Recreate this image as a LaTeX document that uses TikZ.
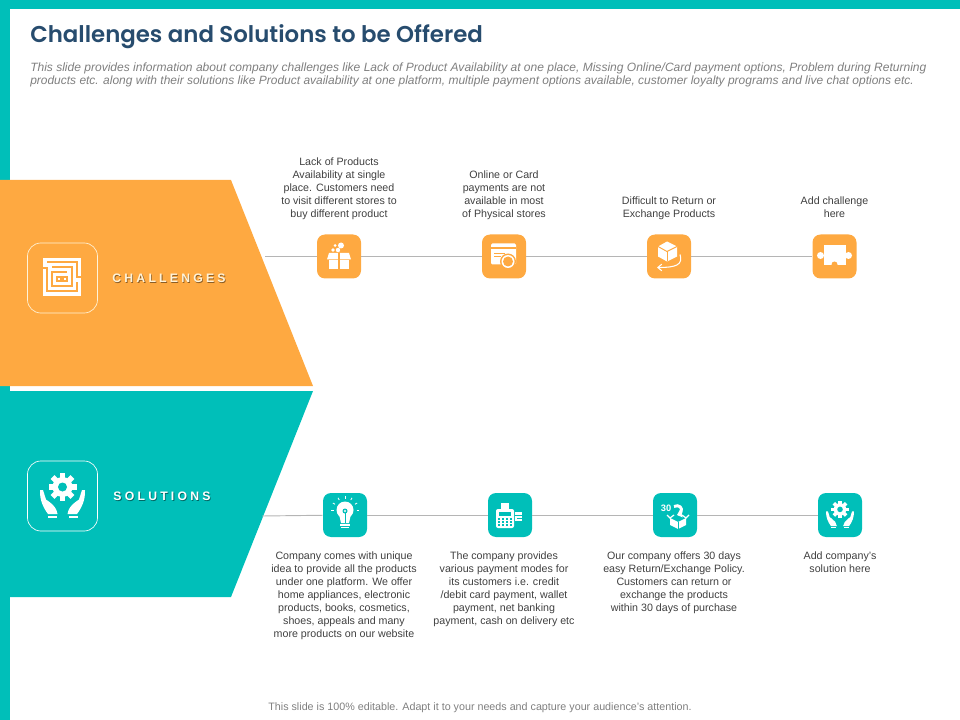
\documentclass[tikz,border=0pt]{standalone}
\usepackage{fontspec}
\setmainfont{Liberation Sans}
\newfontfamily\titlefont[UprightFont={* SemiBold}]{Poppins}
\newfontfamily\spacedfont[LetterSpace=26]{Liberation Sans}
\usetikzlibrary{positioning,arrows.meta}
\definecolor{bandorange}{HTML}{FEA941}
\definecolor{bandteal}{HTML}{00BFB9}
\definecolor{titleblue}{HTML}{274C6E}
\definecolor{leadgray}{HTML}{7F7F7F}
\definecolor{bodygray}{HTML}{404040}
\definecolor{linkgray}{HTML}{B5B5B5}
\definecolor{panelline}{HTML}{FFF3D9}
\newcommand{\shadowtext}[2]{\rlap{\raisebox{-0.5pt}{\kern0.6pt\color{#1}#2}}#2}
\tikzset{
    iconbox/.style={rounded corners=6pt,minimum size=33pt,inner sep=0pt},
    iconpanel/.style={draw,rounded corners=10pt,minimum size=52.5pt,inner sep=0pt,line width=0.5pt},
    bodytext/.style={align=center,inner sep=0pt,text=bodygray,font=\fontsize{8}{9.75}\selectfont},
    bandlabel/.style={inner sep=0pt,text=panelline,font=\spacedfont\bfseries\fontsize{9.2}{10}\selectfont},
    link/.style={linkgray,line width=0.7pt},
    pics/handgear/.style={code={
        \fill[white](0,-9)circle(10);
        \foreach \a in {0,45,...,315}
            \fill[white,rotate around={\a:(0,-9)}](-2.8,-23)rectangle(2.8,-17);
        \fill[#1](0,-9)circle(4.5);
        \foreach \s in {1,-1}{
            \fill[white,xscale=\s](-22.5,-6)..controls(-23,4)and(-19,12)..(-14.5,18)--(-5,18)
                ..controls(-5.5,13)and(-9,9)..(-13,6)--(-16.5,3.5)--(-19.5,-6)--cycle;
            \fill[white,xscale=\s](-15,20)rectangle(-6,21.5);
        }
    }},
}
\begin{document}
\begin{tikzpicture}[x=0.75pt,y=-0.75pt]
    \useasboundingbox(0,0)rectangle(960,720);
    % frame
    \fill[bandteal](0,0)rectangle(960,9);
    \fill[bandteal](0,0)rectangle(10,720);
    % heading
    \node[anchor=west,inner sep=0pt,text=titleblue,font=\titlefont\fontsize{17.15}{22}\selectfont](heading)at(30,36.5){Challenges and Solutions to be Offered};
    \node[anchor=north west,inner sep=0pt,align=left,text=leadgray,font=\itshape\fontsize{9.02}{9.75}\selectfont](lead)at(30,63){This slide provides information about company challenges like Lack of Product Availability at one place, Missing Online/Card payment options, Problem during Returning\\\fontsize{8.98}{9.75}\selectfont products etc.  along with their solutions like Product availability at one platform, multiple payment options available, customer loyalty programs and live chat options etc.};
    % bands
    \fill[bandorange](0,180)--(231,180)--(313,386)--(0,386)--cycle;
    \fill[bandteal](0,391)--(313,391)--(231,597)--(0,597)--cycle;
    \node[iconpanel,draw=panelline](chalpanel)at(62.5,278){};
    \node[iconpanel,draw=white](solpanel)at(62.5,496){};
    \node[bandlabel](chaltext)at(169,279){\shadowtext{black!45!bandorange}{CHALLENGES}};
    \node[bandlabel,text=white](soltext)at(162,497){\shadowtext{black!45!bandteal}{SOLUTIONS}};
    % maze
    \fill[white](43,258)rectangle(81,296);
    \draw[bandorange,line width=0.8pt](47,262)--(77,262)--(77,277)--(83,277);
    \draw[bandorange,line width=0.8pt](41,268)--(47,268)--(47,291)--(77,291)--(77,282);
    \draw[bandorange,line width=0.8pt](52,267)--(72,267)--(72,286)--(52,286)--(52,272)--(67,272);
    \draw[bandorange,line width=0.8pt](57,277)--(67,277)--(67,281)--(57,281)--cycle;
    \fill[bandorange](60,277)rectangle(64,281);
    \pic at (solpanel){handgear=bandteal};
    % challenges row
    \node[iconbox,fill=bandorange](chalA)at(339,256.5){};
    \node[iconbox,fill=bandorange](chalB)at(504,256.5){};
    \node[iconbox,fill=bandorange](chalC)at(669,256.5){};
    \node[iconbox,fill=bandorange](chalD)at(834.5,256.5){};
    \coordinate(chalstart)at(265,256.5);
    \draw[link](chalstart)--(chalA);
    \draw[link](chalA)--(chalB);
    \draw[link](chalB)--(chalC);
    \draw[link](chalC)--(chalD);
    \node[bodytext,above=11pt of chalA](chaltextA){Lack of Products\\Availability at single\\place. Customers need\\to visit different stores to\\buy different product};
    \node[bodytext,above=11pt of chalB](chaltextB){Online or Card\\payments are not\\available in most\\of Physical stores};
    \node[bodytext,above=11pt of chalC](chaltextC){Difficult to Return or\\Exchange Products};
    \node[bodytext,above=12.5pt of chalD](chaltextD){Add challenge\\here};
    % solutions row
    \node[iconbox,fill=bandteal](solA)at(345,515){};
    \node[iconbox,fill=bandteal](solB)at(510,515){};
    \node[iconbox,fill=bandteal](solC)at(675,515){};
    \node[iconbox,fill=bandteal](solD)at(840,515){};
    \coordinate(solstart)at(262,516);
    \draw[link](solstart)--(solA);
    \draw[link](solA)--(solB);
    \draw[link](solB)--(solC);
    \draw[link](solC)--(solD);
    \node[bodytext,below=10.4pt of solA,xshift=-0.75pt](soltextA){Company comes with unique\\idea to provide all the products\\under one platform. We offer\\home appliances, electronic\\products, books, cosmetics,\\shoes, appeals and many\\more products on our website};
    \node[bodytext,below=10.4pt of solB,xshift=-4.5pt](soltextB){The company provides\\various payment modes for\\its customers i.e. credit\\/debit card payment, wallet\\payment, net banking\\payment, cash on delivery etc};
    \node[bodytext,below=10.4pt of solC,xshift=-0.75pt](soltextC){Our company offers 30 days\\easy Return/Exchange Policy.\\Customers can return or\\exchange the products\\within 30 days of purchase};
    \node[bodytext,below=10.4pt of solD](soltextD){Add company's\\solution here};
    % gift
    \begin{scope}[shift={(chalA.center)}]
        \fill[white](-10,-3.5)--(10,-3.5)--(12,3)--(-12,3)--cycle;
        \fill[white](-10,3.5)rectangle(10,13);
        \draw[bandorange,line width=0.8pt](0,-3.5)--(0,13);
        \fill[white](2,-11)circle(3);
        \fill[white](-4,-11)circle(1.5);
        \fill[white](-6,-6.5)circle(1.8);
        \fill[white](-1,-6.5)circle(2.2);
    \end{scope}
    % card with coin
    \begin{scope}[shift={(chalB.center)}]
        \fill[white,rounded corners=1pt](-13,-13)rectangle(12,8);
        \fill[bandorange](-13,-9)rectangle(12,-7);
        \draw[bandorange,line width=0.7pt](-10,-3)--(1,-3);
        \draw[bandorange,line width=0.7pt](-10,0)--(-3,0);
        \fill[bandorange](4,5)circle(8);
        \fill[white](4,5)circle(6.5);
        \fill[bandorange](4,5)circle(5);
    \end{scope}
    % return parcel
    \begin{scope}[shift={(chalC.center)}]
        \fill[white](-2,-15)--(8,-10)--(8,0)--(-2,5)--(-11,0)--(-11,-10)--cycle;
        \draw[bandorange,line width=0.7pt](-11,-10)--(-2,-5)--(8,-10);
        \draw[bandorange,line width=0.7pt](-2,-5)--(-2,5);
        \draw[white,line width=0.8pt,-{Straight Barb[length=3pt,width=5pt]}](11,-2)..controls(14,8)and(8,11)..(-12,11);
    \end{scope}
    % puzzle piece
    \begin{scope}[shift={(chalD.center)}]
        \fill[white](-11,-11)rectangle(11,9);
        \fill[white](-14,-1)circle(3.5);
        \fill[white](14,-1)circle(3.5);
        \fill[bandorange](0,8)circle(3);
    \end{scope}
    % bulb
    \begin{scope}[shift={(solA.center)}]
        \fill[white](0,-5)circle(8.5);
        \fill[white](-6,-1)--(6,-1)--(4,8)--(-4,8)--cycle;
        \fill[bandteal](0,-4)circle(2.5);
        \fill[white](0,-4)circle(1.2);
        \draw[bandteal,line width=0.7pt](0,-2)--(0,8);
        \fill[white](-5,9)rectangle(5,10.5);
        \fill[white](-4,11.5)rectangle(4,13);
        \foreach \a in {-150,-120,-90,-60,-30,180,0}
            \draw[white,line width=0.6pt](\a:11.5)++(0,-5)--++(\a:2.5);
    \end{scope}
    % card reader
    \begin{scope}[shift={(solB.center)}]
        \fill[white](-9,-12)rectangle(-1,-5);
        \fill[white,rounded corners=1.5pt](-14,-6)rectangle(4,13);
        \fill[bandteal](-11,-3)rectangle(1,1);
        \foreach \y in {4,7,10}
            \foreach \x in {-11,-7,-3,1}
                \fill[bandteal](\x-1,\y-0.8)rectangle(\x+1,\y+0.8);
        \fill[white](5,-3)rectangle(12,6);
        \draw[bandteal,line width=0.6pt](5,0)--(12,0);
        \draw[bandteal,line width=0.6pt](7,3)--(12,3);
    \end{scope}
    % 30 day parcel
    \begin{scope}[shift={(solC.center)}]
        \node[inner sep=0pt,text=white,font=\bfseries\fontsize{7}{8}\selectfont](thirty)at(-9,-7){30};
        \draw[white,line width=2.2pt,-{Triangle[length=3.5pt,width=6pt]}](-1,-8.5)..controls(4,-11)and(8,-7)..(6,-3)..controls(5,-1)..(2,0);
        \fill[white](-5,3)--(3,7)--(11,3)--(11,10)--(3,14)--(-5,10)--cycle;
        \draw[bandteal,line width=0.6pt](3,7)--(3,14);
        \draw[white,line width=0.9pt](-8,0)--(-5,3)--(-1,0);
        \draw[white,line width=0.9pt](14,0)--(11,3)--(7,0);
    \end{scope}
    \pic[scale=0.62] at (solD){handgear=bandteal};
    % footer
    \node[inner sep=0pt,text=leadgray,font=\fontsize{8.05}{9}\selectfont](footer)at(480,707.5){This slide is 100\% editable.  Adapt it to your needs and capture your audience's attention.};
\end{tikzpicture}
\end{document}
